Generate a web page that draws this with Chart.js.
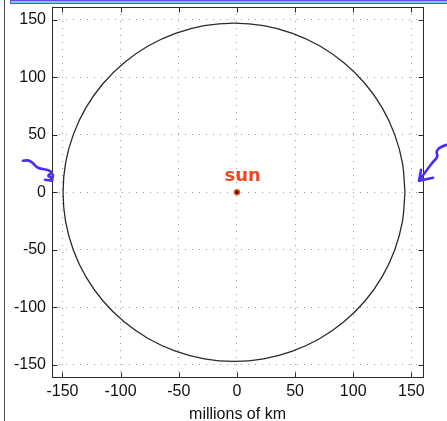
<!DOCTYPE html>
<html>
<head>
<meta charset="utf-8">
<script src="https://cdn.jsdelivr.net/npm/chart.js@4.4.1/dist/chart.umd.min.js"></script>
<style>
  html, body { margin: 0; padding: 0; background: #fff; }
  #wrap { position: relative; width: 447px; height: 421px; overflow: hidden; }
  #orbit { position: absolute; left: 0; top: 0; }
  .edge { position: absolute; left: 4px; top: 0; width: 1px; height: 421px; background: #4a4a4a; }
  .bar { position: absolute; left: 10px; top: 0; width: 437px; height: 2px; background: #62d6ea; border: 1px solid #6f45e6; border-right: none; box-sizing: content-box; }
</style>
</head>
<body>
<div id="wrap">
  <canvas id="orbit" width="447" height="421"></canvas>
  <div class="edge"></div>
  <div class="bar"></div>
</div>
<script>
// tick values on both axes (millions of km)
const xTicks = [-150, -100, -50, 0, 50, 100, 150];
const yTicks = [-150, -100, -50, 0, 50, 100, 150];

// earth's orbit, points every 10 degrees, sun at the origin
const orbitX = [144.5, 142.3, 135.6, 124.8, 110.1, 92.0, 71.0, 47.8, 23.0, -2.5,
  -28.0, -52.8, -76.0, -97.0, -115.1, -129.8, -140.6, -147.3, -149.5,
  -147.3, -140.6, -129.8, -115.1, -97.0, -76.0, -52.8, -28.0, -2.5,
  23.0, 47.8, 71.0, 92.0, 110.1, 124.8, 135.6, 142.3, 144.5];
const orbitY = [0, 25.5, 50.3, 73.5, 94.5, 112.6, 127.3, 138.1, 144.8, 147.0,
  144.8, 138.1, 127.3, 112.6, 94.5, 73.5, 50.3, 25.5, 0,
  -25.5, -50.3, -73.5, -94.5, -112.6, -127.3, -138.1, -144.8, -147.0,
  -144.8, -138.1, -127.3, -112.6, -94.5, -73.5, -50.3, -25.5, 0];

const sunX = [0];
const sunY = [0];

const FONT = '"Liberation Sans", Arial, Helvetica, sans-serif';
const INK = "#2a2a2a";

// pen scribbles: squiggly arrows pointing at the orbit crossing, offsets in px from the tip
const leftArrow = [[-29, -20], [-24, -21], [-19, -18], [-16, -14], [-12, -12], [-4, -11], [1, -8], [-5, -5], [0, -3], [0, 0]];
const rightArrow = [[28, -36], [21, -34], [17, -29], [19, -24], [14, -19], [8, -11], [0, 0]];

function squiggle(ctx, x0, y0, pts, head) {
  ctx.beginPath();
  ctx.moveTo(x0 + pts[0][0], y0 + pts[0][1]);
  for (let i = 1; i < pts.length - 1; i++) {
    const mx = (pts[i][0] + pts[i + 1][0]) / 2;
    const my = (pts[i][1] + pts[i + 1][1]) / 2;
    ctx.quadraticCurveTo(x0 + pts[i][0], y0 + pts[i][1], x0 + mx, y0 + my);
  }
  const last = pts[pts.length - 1];
  ctx.lineTo(x0 + last[0], y0 + last[1]);
  for (const h of head) {
    ctx.moveTo(x0, y0);
    ctx.lineTo(x0 + h[0], y0 + h[1]);
  }
  ctx.stroke();
}

const axesBox = {
  id: "axesBox",
  afterDraw(chart) {
    const { ctx, chartArea: a, scales } = chart;
    const sx = scales.x, sy = scales.y;
    ctx.save();
    ctx.strokeStyle = INK;
    ctx.lineWidth = 1;
    const L = Math.round(a.left) + 0.5, R = Math.round(a.right) + 0.5;
    const T = Math.round(a.top) + 0.5, B = Math.round(a.bottom) + 0.5;
    ctx.strokeRect(L, T, R - L, B - T);
    // inward tick marks on all four sides
    ctx.beginPath();
    for (const v of xTicks) {
      const px = Math.round(sx.getPixelForValue(v)) + 0.5;
      ctx.moveTo(px, B); ctx.lineTo(px, B - 5);
      ctx.moveTo(px, T); ctx.lineTo(px, T + 5);
    }
    for (const v of yTicks) {
      const py = Math.round(sy.getPixelForValue(v)) + 0.5;
      ctx.moveTo(L, py); ctx.lineTo(L + 5, py);
      ctx.moveTo(R, py); ctx.lineTo(R - 5, py);
    }
    ctx.stroke();

    // handwritten label over the sun
    ctx.fillStyle = "#f0471c";
    ctx.font = 'bold 18px "DejaVu Sans", sans-serif';
    ctx.textAlign = "center";
    ctx.textBaseline = "middle";
    ctx.fillText("sun", sx.getPixelForValue(5), sy.getPixelForValue(14));

    // blue arrows at both sides
    ctx.strokeStyle = "#4b2df0";
    ctx.lineWidth = 2.6;
    ctx.lineCap = "round";
    ctx.lineJoin = "round";
    squiggle(ctx, sx.getPixelForValue(-159), sy.getPixelForValue(10), leftArrow, [[-7, -1], [1, -6]]);
    squiggle(ctx, sx.getPixelForValue(156.6), sy.getPixelForValue(10), rightArrow, [[2, -11], [14, -3]]);
    ctx.restore();
  },
};

const tickFont = { family: FONT, size: 16 };

// keep the plot box fixed: no extra room reserved for overhanging tick labels
function noOverhang(s) {
  s.paddingTop = 0;
  s.paddingBottom = 0;
  s.paddingLeft = 0;
  s.paddingRight = 0;
}

new Chart(document.getElementById("orbit"), {
  type: "scatter",
  data: {
    datasets: [
      {
        data: orbitX.map((x, i) => ({ x, y: orbitY[i] })),
        showLine: true,
        borderColor: INK,
        borderWidth: 1.3,
        pointRadius: 0,
        tension: 0.33,
        fill: false,
      },
      {
        data: sunX.map((x, i) => ({ x, y: sunY[i] })),
        pointRadius: 2.5,
        backgroundColor: "#3a0800",
        borderColor: "#ee5522",
        borderWidth: 1.5,
      },
    ],
  },
  options: {
    responsive: false,
    animation: false,
    layout: { padding: { left: 0, right: 24, top: 7, bottom: 0 } },
    plugins: { legend: { display: false }, tooltip: { enabled: false } },
    scales: {
      x: {
        type: "linear",
        min: -159,
        max: 160,
        afterBuildTicks: (s) => { s.ticks = xTicks.map((value) => ({ value })); },
        afterFit: (s) => { s.height = 44; noOverhang(s); },
        ticks: { font: tickFont, color: "#111", padding: 5, maxRotation: 0, autoSkip: false },
        grid: { color: "#9a9a9a", lineWidth: 1, drawTicks: false },
        border: { display: false, dash: [1, 6] },
        title: {
          display: true,
          text: "millions of km",
          font: { family: FONT, size: 16 },
          color: "#111",
          padding: { top: 0, bottom: -3 },
        },
      },
      y: {
        type: "linear",
        min: -160.5,
        max: 161,
        afterBuildTicks: (s) => { s.ticks = yTicks.map((value) => ({ value })); },
        afterFit: (s) => { s.width = 52; noOverhang(s); },
        ticks: { font: tickFont, color: "#111", padding: 6, autoSkip: false },
        grid: { color: "#9a9a9a", lineWidth: 1, drawTicks: false },
        border: { display: false, dash: [1, 6] },
      },
    },
  },
  plugins: [axesBox],
});
</script>
</body>
</html>
